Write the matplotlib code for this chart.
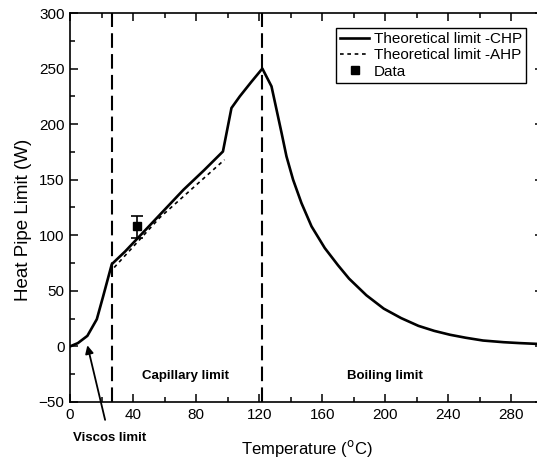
import matplotlib
matplotlib.use("Agg")
import matplotlib.pyplot as plt

plt.rcParams['font.family'] = ['Liberation Sans', 'DejaVu Sans']

# theoretical limit, CHP (solid)
chp_T = [0, 5, 11, 17, 21, 26.5, 35, 42, 50, 60, 72, 85, 97, 102.4, 107.7, 115, 122,
         127.8, 131, 134.2, 137.3, 141.5, 146.8, 153.2, 161.6, 170, 177, 188, 199, 210,
         221, 231, 241, 251, 262, 275, 285, 296]
chp_Q = [0, 3, 9.5, 24.5, 45, 74, 85.5, 96, 108, 123, 141, 158.5, 175.4, 214.5, 225, 238, 250,
         234, 213, 192, 171, 150, 129, 108, 88.5, 73, 61, 46, 34, 25.5,
         18.5, 14, 10.5, 7.8, 5.3, 3.8, 3.0, 2.3]

# theoretical limit, AHP (dashed)
ahp_T = [28, 57, 98]
ahp_Q = [71, 116, 168]

# measured point
data_T = [42.2]
data_Q = [108]
data_err_lo = [10.5]
data_err_hi = [9.5]

# region boundaries
bound_T = [26.5, 122]

fig = plt.figure(figsize=(5.37, 4.58), dpi=100)
ax = fig.add_axes([0.1304, 0.1223, 0.8807, 0.8493])

ax.plot(chp_T, chp_Q, '-', color='black', lw=1.9, label='Theoretical limit -CHP', zorder=3)
ax.plot(ahp_T, ahp_Q, color='black', lw=1.2, linestyle=(0, (2.2, 2.2)),
        label='Theoretical limit -AHP', zorder=2)
ax.errorbar(data_T, data_Q, yerr=[data_err_lo, data_err_hi], fmt='none', ecolor='black',
            elinewidth=1.2, capsize=4, capthick=1.2, zorder=4)
ax.plot(data_T, data_Q, 's', color='black', ms=6, linestyle='none', label='Data', zorder=5)

for t in bound_T:
    ax.axvline(t, color='black', lw=1.5, linestyle=(0, (7, 3)), zorder=1)

ax.set_xlim(0, 300)
ax.set_ylim(-50, 300)
ax.set_xticks(range(0, 300, 40))
ax.set_xticks(range(0, 300, 20), minor=True)
ax.set_yticks(range(-50, 301, 50))
ax.set_yticks(range(-50, 301, 25), minor=True)
ax.tick_params(which='both', direction='in', top=True, right=True, labelsize=11,
               width=1.1, pad=4)
ax.tick_params(which='major', length=6)
ax.tick_params(which='minor', length=3.5)
for s in ax.spines.values():
    s.set_linewidth(1.2)

ax.set_xlabel('Temperature ($^{\\mathrm{o}}$C)', fontsize=12)
ax.xaxis.set_label_coords(0.5, -0.093)
ax.set_ylabel('Heat Pipe Limit (W)', fontsize=13.5)
ax.yaxis.set_label_coords(-0.081, 0.468)

ax.text(73, -27, 'Capillary limit', fontsize=9.5, fontweight='bold', ha='center', va='center')
ax.text(200, -27, 'Boiling limit', fontsize=9.5, fontweight='bold', ha='center', va='center')
ax.annotate('Viscos limit', xy=(11, 1), xytext=(25, -82.5), textcoords='data',
            fontsize=9.5, fontweight='bold', ha='center', va='center', annotation_clip=False,
            arrowprops=dict(arrowstyle='-|>', color='black', lw=1.3, shrinkA=7, shrinkB=0,
                            mutation_scale=12))

leg = ax.legend(loc='upper right', bbox_to_anchor=(0.9634, 0.9607), fontsize=11,
                frameon=True, fancybox=False, edgecolor='black', framealpha=1,
                handlelength=1.9, handletextpad=0.3, labelspacing=0.15, borderpad=0.25,
                borderaxespad=0)
leg.get_frame().set_linewidth(1.0)

fig.savefig('out.png', dpi=100)
